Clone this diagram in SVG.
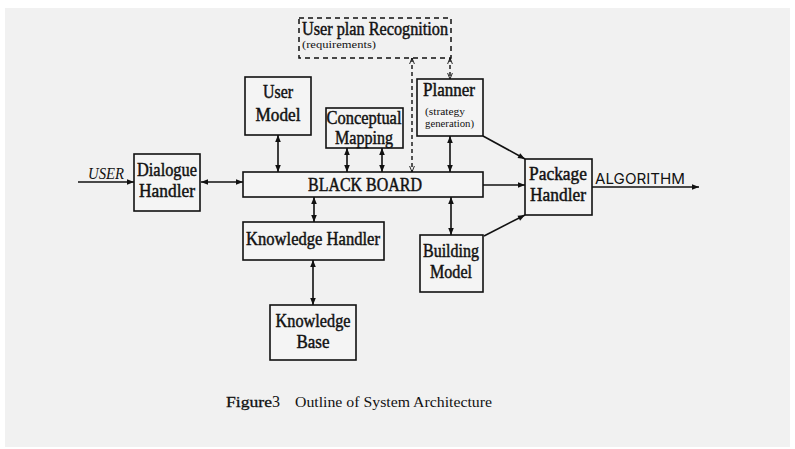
<svg xmlns="http://www.w3.org/2000/svg" width="795" height="449" viewBox="0 0 795 449">
<defs>
<marker id="ah" viewBox="0 0 10 10" refX="10" refY="5" markerWidth="9" markerHeight="7" markerUnits="userSpaceOnUse" orient="auto-start-reverse">
<path d="M0,1 L10,5 L0,9 Z" fill="#111"/>
</marker>
<marker id="oh" viewBox="0 0 10 10" refX="10" refY="5" markerWidth="8" markerHeight="6" markerUnits="userSpaceOnUse" orient="auto-start-reverse">
<path d="M0,1 L10,5 L0,9" fill="none" stroke="#111" stroke-width="1.5"/>
</marker>
</defs>
<style>
.bx{fill:#f4f4f4;stroke:#111;stroke-width:1.6}
.dbx{fill:none;stroke:#111;stroke-width:1.5;stroke-dasharray:5,4}
.t{font-family:"Liberation Serif","Times New Roman",serif;font-size:18px;fill:#111;stroke:#111;stroke-width:0.45;text-anchor:middle}
.l{text-anchor:start}
.s{font-family:"Liberation Serif","Times New Roman",serif;font-size:10.5px;fill:#111}
.ln{stroke:#111;stroke-width:1.6;fill:none}
.dl{stroke:#111;stroke-width:1.4;fill:none;stroke-dasharray:4,3}
</style>
<rect x="0" y="0" width="795" height="449" fill="#ffffff"/>
<rect x="5" y="8" width="785" height="439" fill="#f1f1f1"/>

<g id="connectors">
<line class="ln" x1="78" y1="182" x2="134" y2="182" marker-end="url(#ah)"/>
<line class="ln" x1="201" y1="182" x2="243" y2="182" marker-start="url(#ah)" marker-end="url(#ah)"/>
<line class="ln" x1="278" y1="135" x2="278" y2="172" marker-start="url(#ah)" marker-end="url(#ah)"/>
<line class="ln" x1="347" y1="148" x2="347" y2="172" marker-start="url(#ah)" marker-end="url(#ah)"/>
<line class="ln" x1="382" y1="148" x2="382" y2="172" marker-start="url(#ah)" marker-end="url(#ah)"/>
<line class="ln" x1="450" y1="136" x2="450" y2="172" marker-start="url(#ah)" marker-end="url(#ah)"/>
<line class="ln" x1="314" y1="197" x2="314" y2="222" marker-start="url(#ah)" marker-end="url(#ah)"/>
<line class="ln" x1="313" y1="260" x2="313" y2="305" marker-start="url(#ah)" marker-end="url(#ah)"/>
<line class="ln" x1="451" y1="197" x2="451" y2="235" marker-start="url(#ah)" marker-end="url(#ah)"/>
<line class="ln" x1="483" y1="185" x2="525" y2="185" marker-end="url(#ah)"/>
<line class="ln" x1="483" y1="136" x2="525" y2="159" marker-end="url(#ah)"/>
<line class="ln" x1="484" y1="236" x2="525" y2="215" marker-end="url(#ah)"/>
<line class="ln" x1="592" y1="187" x2="699" y2="187" marker-end="url(#ah)" stroke-width="2"/>
<line class="dl" x1="412" y1="58" x2="412" y2="172" marker-start="url(#oh)" marker-end="url(#oh)"/>
<line class="dl" x1="450" y1="58" x2="450" y2="79" marker-start="url(#oh)" marker-end="url(#oh)"/>
</g>

<g id="user-plan-recognition">
<rect class="dbx" x="299" y="18" width="152" height="40"/>
<text class="t l" x="302" y="35" font-size="17" textLength="146" lengthAdjust="spacingAndGlyphs">User plan Recognition</text>
<text class="s" x="302" y="48" textLength="74" lengthAdjust="spacingAndGlyphs">(requirements)</text>
</g>

<g id="user-model">
<rect class="bx" x="245" y="77" width="66" height="58"/>
<text class="t" x="278" y="98" textLength="30" lengthAdjust="spacingAndGlyphs">User</text>
<text class="t" x="278" y="121" textLength="45" lengthAdjust="spacingAndGlyphs">Model</text>
</g>

<g id="conceptual-mapping">
<rect class="bx" x="326" y="108" width="77" height="40"/>
<text class="t" x="364" y="124" textLength="75" lengthAdjust="spacingAndGlyphs">Conceptual</text>
<text class="t" x="364" y="144" textLength="58" lengthAdjust="spacingAndGlyphs">Mapping</text>
</g>

<g id="planner">
<rect class="bx" x="417" y="79" width="66" height="57"/>
<text class="t" x="449" y="96" textLength="52" lengthAdjust="spacingAndGlyphs">Planner</text>
<text class="s" x="425" y="115" textLength="40" lengthAdjust="spacingAndGlyphs">(strategy</text>
<text class="s" x="425" y="127" textLength="49" lengthAdjust="spacingAndGlyphs">generation)</text>
</g>

<g id="dialogue-handler">
<rect class="bx" x="134" y="154" width="66" height="57"/>
<text class="t" x="167" y="176" textLength="60" lengthAdjust="spacingAndGlyphs">Dialogue</text>
<text class="t" x="167" y="197" textLength="56" lengthAdjust="spacingAndGlyphs">Handler</text>
</g>

<g id="user-label">
<text x="88" y="179" font-family="Liberation Serif, Times New Roman, serif" font-size="16" font-style="italic" fill="#111" textLength="36" lengthAdjust="spacingAndGlyphs">USER</text>
</g>

<g id="black-board">
<rect class="bx" x="243" y="172" width="240" height="25"/>
<text class="t" x="365" y="191" textLength="114" lengthAdjust="spacingAndGlyphs">BLACK BOARD</text>
</g>

<g id="package-handler">
<rect class="bx" x="525" y="159" width="67" height="56"/>
<text class="t" x="558" y="180" textLength="58" lengthAdjust="spacingAndGlyphs">Package</text>
<text class="t" x="558" y="201" textLength="56" lengthAdjust="spacingAndGlyphs">Handler</text>
</g>

<g id="algorithm-label">
<text x="595" y="184" font-family="Inter, Lato, sans-serif" font-size="15" fill="#111" textLength="90" lengthAdjust="spacingAndGlyphs">ALGORITHM</text>
</g>

<g id="building-model">
<rect class="bx" x="420" y="235" width="63" height="57"/>
<text class="t" x="451" y="257" textLength="56" lengthAdjust="spacingAndGlyphs">Building</text>
<text class="t" x="451" y="278" textLength="42" lengthAdjust="spacingAndGlyphs">Model</text>
</g>

<g id="knowledge-handler">
<rect class="bx" x="243" y="222" width="141" height="38"/>
<text class="t" x="313" y="245" textLength="134" lengthAdjust="spacingAndGlyphs">Knowledge Handler</text>
</g>

<g id="knowledge-base">
<rect class="bx" x="270" y="305" width="86" height="55"/>
<text class="t" x="313" y="327" textLength="75" lengthAdjust="spacingAndGlyphs">Knowledge</text>
<text class="t" x="313" y="348" textLength="33" lengthAdjust="spacingAndGlyphs">Base</text>
</g>

<g id="caption">
<text x="226" y="407" font-family="Liberation Serif, Times New Roman, serif" font-size="15" fill="#111" stroke="#111" stroke-width="0.3" textLength="46" lengthAdjust="spacingAndGlyphs">Figure</text>
<text x="272" y="407" font-family="Liberation Serif, Times New Roman, serif" font-size="16" fill="#111">3</text>
<text x="295" y="407" font-family="Liberation Serif, Times New Roman, serif" font-size="15" fill="#111" textLength="197" lengthAdjust="spacingAndGlyphs">Outline of System Architecture</text>
</g>
</svg>
